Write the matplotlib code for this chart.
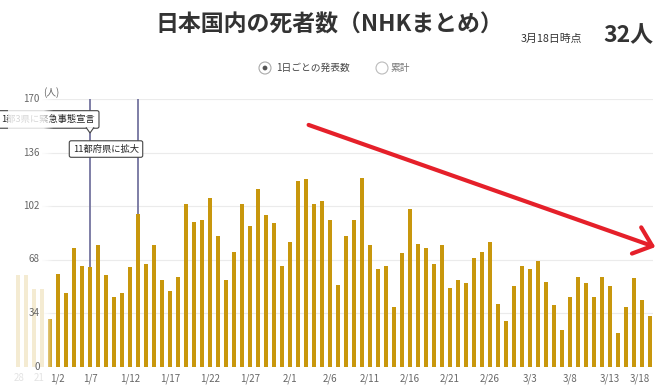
import numpy as np
import matplotlib
matplotlib.use("Agg")
import matplotlib.pyplot as plt
from matplotlib.patches import FancyArrowPatch, Circle, Polygon

plt.rcParams['font.family'] = ['Noto Sans CJK JP', 'DejaVu Sans']

# daily deaths, 1/2 .. 3/18
dates = ([f"1/{d}" for d in range(2, 32)] + [f"2/{d}" for d in range(1, 29)]
         + [f"3/{d}" for d in range(1, 19)])
deaths = [30, 59, 47, 75, 64, 63, 77, 58, 44, 47, 63, 97, 65, 77, 55, 48, 57, 103, 92, 93,
          107, 83, 55, 73, 103, 89, 113, 96, 91, 64,
          79, 118, 119, 103, 105, 93, 52, 83, 93, 120, 77, 62, 64, 38, 72, 100, 78, 75, 65, 77,
          50, 55, 53, 69, 73, 79, 40, 29,
          51, 64, 62, 67, 54, 39, 23, 44, 57, 53, 44, 57, 51, 21, 38, 56, 42, 32]
# bars scrolled off to the left (12/29 .. 1/1)
prev_deaths = [58, 58, 49, 49]
tick_dates = ["1/2", "1/7", "1/12", "1/17", "1/22", "1/27", "2/1", "2/6", "2/11", "2/16",
              "2/21", "2/26", "3/3", "3/8", "3/13", "3/18"]
yticks = [0, 34, 68, 102, 136, 170]
events = [("1/7", "1都3県に緊急事態宣言"), ("1/13", "11都府県に拡大")]

W, H = 670, 391
fig = plt.figure(figsize=(W / 100, H / 100), dpi=100)


def fx(px):
    return px / W


def fy(py):
    return 1 - py / H


gold = "#c8970d"
ax = fig.add_axes([fx(8), fy(366.5), fx(653) - fx(8), fy(99) - fy(366.5)])
x = np.arange(len(deaths))
xp = np.arange(-len(prev_deaths), 0)
ax.bar(x, deaths, width=0.6, color=gold, zorder=2)
ax.bar(xp, prev_deaths, width=0.6, color=gold, zorder=2)

x0, x1 = -5.25, 75.375
for v in yticks[1:]:
    ax.hlines(v, -1, x1, color="#ebebeb", lw=0.8, zorder=1)
ax.hlines(0, -1, x1, color="#dddddd", lw=0.8, zorder=1)

# event lines and callouts
for d, label in events:
    i = dates.index(d)
    ax.vlines(i, deaths[i], 171, color="#74749f", lw=1.3, zorder=3)

ax.text(5.6, 157, events[0][1], ha="right", va="center", fontsize=6.7, color="#222",
        zorder=4, clip_on=False,
        bbox=dict(boxstyle="round,pad=0.45,rounding_size=0.2", fc="white", ec="#444", lw=0.8))
i0 = dates.index(events[0][0])
tri = Polygon([[i0 - 0.5, 152.0], [i0, 148.4], [i0 + 0.5, 152.0]], closed=False,
              fc="white", ec="#444", lw=0.8, zorder=4.1, clip_on=False)
ax.add_patch(tri)
ax.text(7.0, 138.2, events[1][1], ha="center", va="center", fontsize=6.7, color="#222",
        zorder=4, clip_on=False,
        bbox=dict(boxstyle="round,pad=0.4,rounding_size=0.2", fc="white", ec="#444", lw=0.8))

# white fade over the scrolled-off part on the left
grad_px = np.arange(8, 56)
alpha = np.clip((54 - grad_px) / 10.0, 0, 1) * 0.82
rgba = np.ones((1, len(grad_px), 4))
rgba[0, :, 3] = alpha
ax.imshow(rgba, extent=[x0, (55 - 50) / 8, -14, 178], aspect="auto", zorder=5,
          clip_on=False, interpolation="bilinear")

ax.set_xlim(x0, x1)
ax.set_ylim(0, 170)
for s in ax.spines.values():
    s.set_visible(False)
ax.set_yticks([])
ax.set_xticks([dates.index(d) for d in tick_dates])
ax.set_xticklabels(tick_dates, fontsize=7, color="#666")
ax.tick_params(axis="x", length=0, pad=5)
lbls = ax.get_xticklabels()
lbls[0].set_ha("left")
lbls[-1].set_ha("right")

# ghost labels of the scrolled part
ax.text(-3.9, -7.6, "28", ha="center", va="center", fontsize=7, color="#666", zorder=4.5,
        clip_on=False)
ax.text(-1.4, -7.6, "21", ha="center", va="center", fontsize=7, color="#666", zorder=4.5,
        clip_on=False)

for v in yticks:
    ax.text(-1.3, v, str(v), ha="right", va="center", fontsize=7, color="#666", zorder=6,
            clip_on=False)
ax.text(-0.85, 174, "(人)", ha="left", va="center", fontsize=7, color="#666", zorder=6,
        clip_on=False)

# header
fig.text(fx(329), fy(25), "日本国内の死者数（NHKまとめ）", ha="center", va="center",
         fontsize=16.5, fontweight="bold", color="#333")
fig.text(fx(521), fy(39), "3月18日時点", ha="left", va="center", fontsize=7.8, color="#333")
fig.text(fx(603), fy(36), "32人", ha="left", va="center", fontsize=16.5, fontweight="bold",
         color="#333")


def radio(px, py, r, **kw):
    # circle in pixel units so it stays round
    c = Circle((px / 100, (H - py) / 100), r / 100, transform=fig.dpi_scale_trans, **kw)
    fig.add_artist(c)


radio(265, 68, 6, fc="white", ec="#aaa", lw=0.8)
radio(265, 68, 2.4, fc="#555", ec="none")
fig.text(fx(276), fy(68), "1日ごとの発表数", ha="left", va="center", fontsize=7, color="#444")
radio(382, 68, 6, fc="white", ec="#bbb", lw=0.8)
fig.text(fx(390), fy(68), "累計", ha="left", va="center", fontsize=7, color="#777")

# red trend arrow
arr = FancyArrowPatch((fx(306), fy(124)), (fx(658), fy(248)), transform=fig.transFigure,
                      arrowstyle="->,head_length=12,head_width=10", mutation_scale=1,
                      color="#e5202a", lw=3, capstyle="round", joinstyle="round")
fig.add_artist(arr)

fig.savefig("out.png", dpi=100, facecolor="white")
